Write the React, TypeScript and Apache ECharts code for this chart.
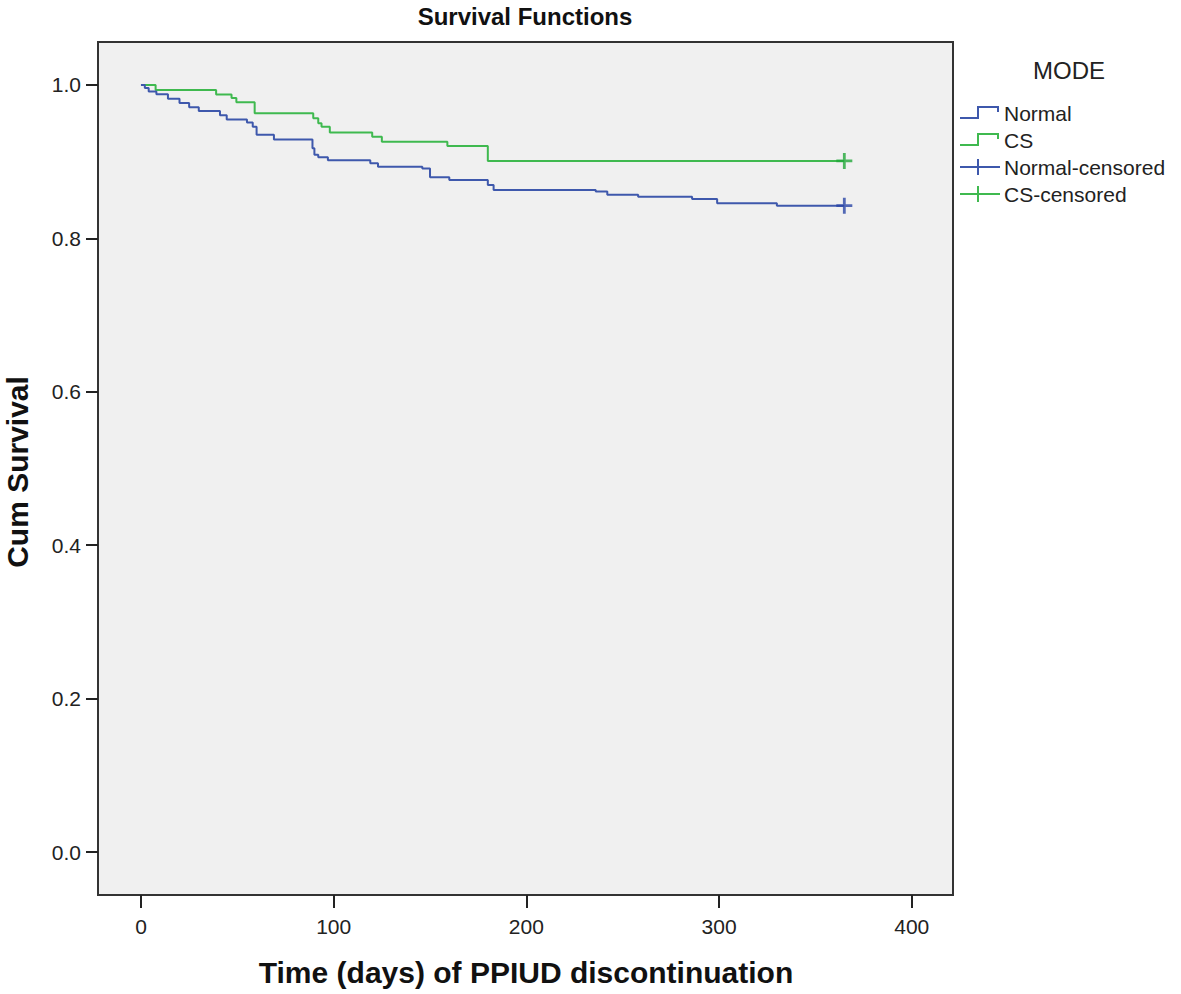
import React, { useEffect, useRef } from "react";
import * as echarts from "echarts";

const normalTimes = [0, 2, 4, 8, 14, 20, 25, 30, 41, 44.5, 55, 58, 60, 69, 89, 90, 92, 97, 119, 123, 146, 150, 160, 180, 183, 236, 242, 258, 286, 299, 330, 365];
const normalSurv = [1.0, 0.996, 0.9915, 0.988, 0.982, 0.9765, 0.971, 0.966, 0.9605, 0.955, 0.951, 0.9456, 0.935, 0.929, 0.9174, 0.909, 0.9057, 0.902, 0.898, 0.8935, 0.891, 0.8796, 0.876, 0.8696, 0.863, 0.861, 0.857, 0.8544, 0.8514, 0.8457, 0.8426, 0.8426];

const csTimes = [0, 7.6, 39, 47, 49.5, 59, 89.4, 92, 93.7, 98, 120, 125, 159, 180, 365];
const csSurv = [1.0, 0.9935, 0.9874, 0.983, 0.9775, 0.963, 0.9565, 0.95, 0.9456, 0.938, 0.9326, 0.926, 0.9205, 0.901, 0.901];

const normalCensorTimes = [365];
const normalCensorSurv = [0.8426];
const csCensorTimes = [365];
const csCensorSurv = [0.901];

const xTicks = [0, 100, 200, 300, 400];
const yTicks = [0, 0.2, 0.4, 0.6, 0.8, 1.0];

const legendNames = ["Normal", "CS", "Normal-censored", "CS-censored"];

const BLUE = "#3e58ac";
const GREEN = "#3fb94f";
const BLUE_DARK = "#2a46a6";
const GREEN_DARK = "#22a83a";
const PLUS = "path://M7,0h3v7h7v3h-7v7h-3v-7h-7v-3h7z";

const zip = (a: number[], b: number[]) => a.map((v, i) => [v, b[i]]);

export default function App() {
  const ref = useRef<HTMLDivElement>(null);
  useEffect(() => {
    if (!ref.current) return;
    const chart = echarts.init(ref.current, null, { renderer: "svg" });
    const font = "Liberation Sans, Arial, sans-serif";
    const lx = 960;
    const ly = [113, 140, 167, 194];
    const stepIcon = (y: number, color: string) => ({
      type: "polyline",
      shape: { points: [[lx, y + 5], [lx + 18, y + 5], [lx + 18, y - 6], [lx + 38, y - 6], [lx + 38, y - 1]] },
      style: { stroke: color, lineWidth: 2, fill: null },
    });
    const plusIcon = (y: number, color: string) => ({
      type: "group",
      children: [
        { type: "line", shape: { x1: lx, y1: y, x2: lx + 40, y2: y }, style: { stroke: color, lineWidth: 2 } },
        { type: "line", shape: { x1: lx + 18, y1: y - 8, x2: lx + 18, y2: y + 8 }, style: { stroke: color, lineWidth: 2 } },
      ],
    });
    chart.setOption({
      animation: false,
      backgroundColor: "#ffffff",
      grid: {
        left: 98,
        right: 228,
        top: 42,
        bottom: 99,
        show: true,
        backgroundColor: "#f0f0f0",
        borderColor: "#333333",
        borderWidth: 2,
      },
      xAxis: {
        type: "value",
        min: -22.3,
        max: 421.4,
        axisLine: { show: false, onZero: false },
        splitLine: { show: false },
        axisTick: { show: true, length: 13, lineStyle: { color: "#222", width: 2 }, customValues: xTicks },
        axisLabel: { customValues: xTicks, margin: 21, color: "#222", fontSize: 21, fontFamily: font },
      },
      yAxis: {
        type: "value",
        min: -0.056,
        max: 1.056,
        axisLine: { show: false, onZero: false },
        splitLine: { show: false },
        axisTick: { show: true, length: 12, lineStyle: { color: "#222", width: 2 }, customValues: yTicks },
        axisLabel: {
          customValues: yTicks,
          margin: 17,
          color: "#222",
          fontSize: 21,
          fontFamily: font,
          formatter: (v: number) => v.toFixed(1),
        },
      },
      series: [
        {
          name: legendNames[0],
          type: "line",
          step: "end",
          showSymbol: false,
          data: zip(normalTimes, normalSurv),
          lineStyle: { color: BLUE, width: 2 },
          z: 3,
        },
        {
          name: legendNames[1],
          type: "line",
          step: "end",
          showSymbol: false,
          data: zip(csTimes, csSurv),
          lineStyle: { color: GREEN, width: 2 },
          z: 2,
        },
        {
          name: legendNames[2],
          type: "scatter",
          symbol: PLUS,
          symbolSize: 16,
          data: zip(normalCensorTimes, normalCensorSurv),
          itemStyle: { color: BLUE_DARK },
          z: 4,
        },
        {
          name: legendNames[3],
          type: "scatter",
          symbol: PLUS,
          symbolSize: 16,
          data: zip(csCensorTimes, csCensorSurv),
          itemStyle: { color: GREEN_DARK },
          z: 4,
        },
      ],
      graphic: [
        {
          type: "text",
          x: 525,
          y: 16,
          style: { text: "Survival Functions", font: "bold 24px " + font, fill: "#111", align: "center", verticalAlign: "middle" },
        },
        {
          type: "text",
          x: 526,
          y: 972,
          style: { text: "Time (days) of PPIUD discontinuation", font: "bold 30px " + font, fill: "#111", align: "center", verticalAlign: "middle" },
        },
        {
          type: "text",
          x: 17,
          y: 472,
          rotation: Math.PI / 2,
          style: { text: "Cum Survival", font: "bold 30px " + font, fill: "#111", align: "center", verticalAlign: "middle" },
        },
        {
          type: "text",
          x: 1069,
          y: 70,
          style: { text: "MODE", font: "24px " + font, fill: "#222", align: "center", verticalAlign: "middle" },
        },
        stepIcon(ly[0], BLUE),
        stepIcon(ly[1], GREEN),
        plusIcon(ly[2], BLUE),
        plusIcon(ly[3], GREEN),
        ...legendNames.map((n, i) => ({
          type: "text",
          x: 1004,
          y: ly[i],
          style: { text: n, font: "21px " + font, fill: "#222", align: "left", verticalAlign: "middle" },
        })),
      ],
    });
    return () => chart.dispose();
  }, []);
  return <div ref={ref} style={{ position: "fixed", left: 0, top: 0, width: 1181, height: 994 }} />;
}
